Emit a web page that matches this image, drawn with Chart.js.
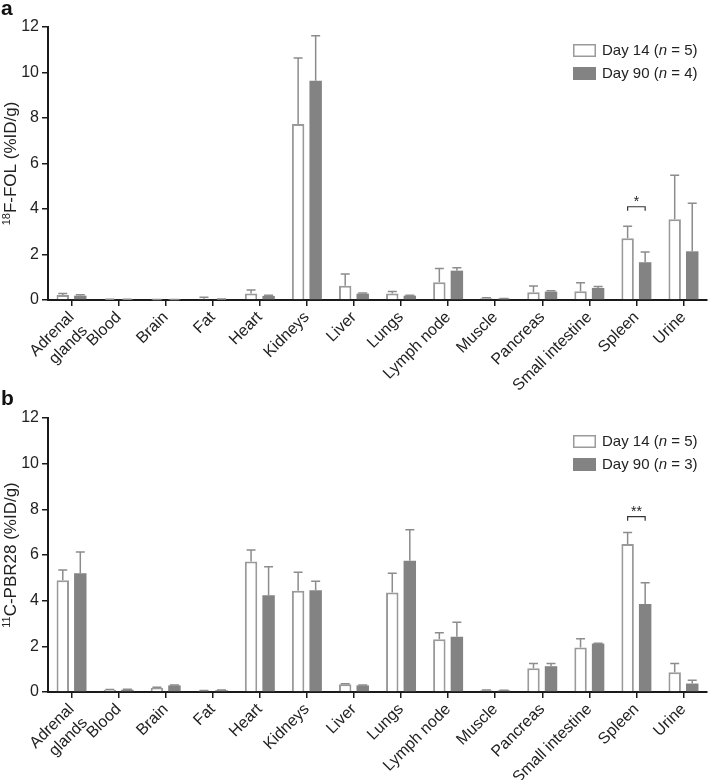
<!DOCTYPE html>
<html>
<head>
<meta charset="utf-8">
<script src="https://cdn.jsdelivr.net/npm/chart.js@4.4.1/dist/chart.umd.min.js"></script>
<style>
  body { margin: 0; background: #fff; }
  .panel { position: absolute; left: 0; }
</style>
</head>
<body>
<canvas id="chartA" class="panel" style="top:0" width="709" height="390"></canvas>
<canvas id="chartB" class="panel" style="top:390px" width="709" height="390"></canvas>
<script>
const organs = [['Adrenal', 'glands'], 'Blood', 'Brain', 'Fat', 'Heart', 'Kidneys', 'Liver', 'Lungs',
    'Lymph node', 'Muscle', 'Pancreas', 'Small intestine', 'Spleen', 'Urine'];
const yTicks = [0, 2, 4, 6, 8, 10, 12];
const days = [14, 90];

// panel a: 18F-FOL
const folDay14 = [0.22, 0.02, 0.01, 0.05, 0.29, 7.74, 0.63, 0.29, 0.78, 0.08, 0.34, 0.38, 2.71, 3.55];
const folDay14Sd = [0.07, 0.01, 0.01, 0.07, 0.15, 2.90, 0.51, 0.08, 0.60, 0.02, 0.28, 0.38, 0.53, 1.93];
const folDay90 = [0.19, 0.02, 0.01, 0.03, 0.18, 9.64, 0.28, 0.19, 1.29, 0.06, 0.37, 0.53, 1.66, 2.14];
const folDay90Sd = [0.04, 0.01, 0.01, 0.01, 0.03, 1.98, 0.03, 0.02, 0.13, 0.01, 0.04, 0.06, 0.45, 2.11];
const folN = [5, 4];

// panel b: 11C-PBR28
const pbrDay14 = [4.89, 0.10, 0.19, 0.06, 5.71, 4.43, 0.34, 4.36, 2.31, 0.08, 1.04, 1.95, 6.48, 0.86];
const pbrDay14Sd = [0.45, 0.01, 0.02, 0.01, 0.51, 0.82, 0.02, 0.84, 0.28, 0.01, 0.21, 0.38, 0.50, 0.39];
const pbrDay90 = [5.20, 0.10, 0.29, 0.08, 4.24, 4.46, 0.29, 5.75, 2.42, 0.07, 1.13, 2.12, 3.85, 0.37];
const pbrDay90Sd = [0.93, 0.02, 0.02, 0.01, 1.25, 0.39, 0.02, 1.36, 0.64, 0.01, 0.12, 0.02, 0.94, 0.14];
const pbrN = [5, 3];

const font = "'Liberation Sans', Arial, sans-serif";
const openColor = '#9a9a9a';
const fillColor = '#838383';
const errColor = '#8c8c8c';
Chart.defaults.font.family = font;

// one-sided error bars on top of each bar
const errorBars = {
    id: 'errorBars',
    afterDatasetsDraw(chart) {
        const ctx = chart.ctx;
        const y = chart.scales.y;
        chart.data.datasets.forEach((ds, i) => {
            chart.getDatasetMeta(i).data.forEach((bar, j) => {
                const top = y.getPixelForValue(ds.data[j] + ds.errors[j]);
                ctx.save();
                ctx.strokeStyle = errColor;
                ctx.lineWidth = 1.5;
                ctx.beginPath();
                ctx.moveTo(bar.x, bar.y);
                ctx.lineTo(bar.x, top);
                ctx.moveTo(bar.x - 4.5, top);
                ctx.lineTo(bar.x + 4.5, top);
                ctx.stroke();
                ctx.restore();
            });
        });
    }
};

// panel letter, y title with superscript, legend, significance bracket
const decorations = {
    id: 'decorations',
    afterDraw(chart, args, opts) {
        const ctx = chart.ctx;
        const area = chart.chartArea;
        ctx.save();
        ctx.fillStyle = '#111';
        ctx.font = `bold 21px ${font}`;
        ctx.textBaseline = 'top';
        ctx.fillText(opts.letter, 1, -1);

        // y axis title
        ctx.translate(16, (area.top + area.bottom) / 2);
        ctx.rotate(-Math.PI / 2);
        ctx.fillStyle = '#222';
        ctx.textBaseline = 'alphabetic';
        ctx.font = `11px ${font}`;
        const supW = ctx.measureText(opts.sup).width;
        ctx.font = `17px ${font}`;
        const mainW = ctx.measureText(opts.title).width;
        const x0 = -(supW + mainW) / 2;
        ctx.font = `11px ${font}`;
        ctx.fillText(opts.sup, x0, -6);
        ctx.font = `17px ${font}`;
        ctx.fillText(opts.title, x0 + supW, 0);
        ctx.restore();

        // legend
        ctx.save();
        chart.data.datasets.forEach((ds, i) => {
            const top = area.top + 17 + i * 23;
            ctx.fillStyle = i === 0 ? '#fff' : fillColor;
            ctx.fillRect(573, top, 23, 13);
            if (i === 0) {
                ctx.strokeStyle = openColor;
                ctx.lineWidth = 1.5;
                ctx.strokeRect(573.75, top + 0.75, 21.5, 11.5);
            }
            ctx.fillStyle = '#222';
            ctx.textBaseline = 'middle';
            let x = 602;
            const parts = [[`Day ${days[i]} (`, ''], ['n', 'italic '], [` = ${opts.n[i]})`, '']];
            parts.forEach(([t, style]) => {
                ctx.font = `${style}15px ${font}`;
                ctx.fillText(t, x, top + 7);
                x += ctx.measureText(t).width;
            });
        });
        ctx.restore();

        // significance bracket
        const sig = opts.sig;
        const a = chart.getDatasetMeta(0).data[sig.index];
        const b = chart.getDatasetMeta(1).data[sig.index];
        const yb = chart.scales.y.getPixelForValue(sig.value);
        ctx.save();
        ctx.strokeStyle = '#333';
        ctx.lineWidth = 1.2;
        ctx.beginPath();
        ctx.moveTo(a.x, yb + 4);
        ctx.lineTo(a.x, yb);
        ctx.lineTo(b.x, yb);
        ctx.lineTo(b.x, yb + 4);
        ctx.stroke();
        ctx.fillStyle = '#222';
        ctx.font = `14px ${font}`;
        ctx.textAlign = 'center';
        ctx.textBaseline = 'alphabetic';
        ctx.fillText(sig.text, (a.x + b.x) / 2, yb - 1);
        ctx.restore();
    }
};

function makeChart(id, d14, d14sd, d90, d90sd, cfg) {
    return new Chart(document.getElementById(id), {
        type: 'bar',
        data: {
            labels: organs,
            datasets: [{
                label: 'Day 14',
                data: d14,
                errors: d14sd,
                backgroundColor: '#fff',
                borderColor: openColor,
                borderWidth: 2,
                categoryPercentage: 0.745,
                barPercentage: 0.71
            }, {
                label: 'Day 90',
                data: d90,
                errors: d90sd,
                backgroundColor: fillColor,
                borderColor: fillColor,
                borderWidth: 0,
                categoryPercentage: 0.745,
                barPercentage: 0.71
            }]
        },
        options: {
            responsive: false,
            animation: false,
            layout: { padding: { left: 0, top: cfg.top, right: 2, bottom: 0 } },
            plugins: {
                legend: { display: false },
                tooltip: { enabled: false },
                decorations: cfg
            },
            scales: {
                x: {
                    afterFit: s => { s.height = cfg.xHeight; },
                    border: { color: '#1a1a1a', width: 2 },
                    grid: { offset: false, drawOnChartArea: false, drawTicks: true, tickLength: 6, color: '#1a1a1a', lineWidth: 1.5 },
                    ticks: { minRotation: 45, maxRotation: 45, autoSkip: false, padding: 2, color: '#222', font: { size: 16 } }
                },
                y: {
                    min: 0,
                    max: 12,
                    afterFit: s => { s.width = 48; },
                    afterBuildTicks: s => { s.ticks = yTicks.map(v => ({ value: v })); },
                    border: { color: '#1a1a1a', width: 2 },
                    grid: { drawOnChartArea: false, drawTicks: true, tickLength: 6, color: '#1a1a1a', lineWidth: 1.5 },
                    ticks: { padding: 3, color: '#222', font: { size: 16 } }
                }
            }
        },
        plugins: [errorBars, decorations]
    });
}

makeChart('chartA', folDay14, folDay14Sd, folDay90, folDay90Sd, {
    letter: 'a', sup: '18', title: 'F-FOL (%ID/g)', n: folN,
    sig: { index: 12, value: 4.1, text: '*' }, top: 27, xHeight: 90
});
makeChart('chartB', pbrDay14, pbrDay14Sd, pbrDay90, pbrDay90Sd, {
    letter: 'b', sup: '11', title: 'C-PBR28 (%ID/g)', n: pbrN,
    sig: { index: 12, value: 7.68, text: '**' }, top: 28, xHeight: 88
});
</script>
</body>
</html>
